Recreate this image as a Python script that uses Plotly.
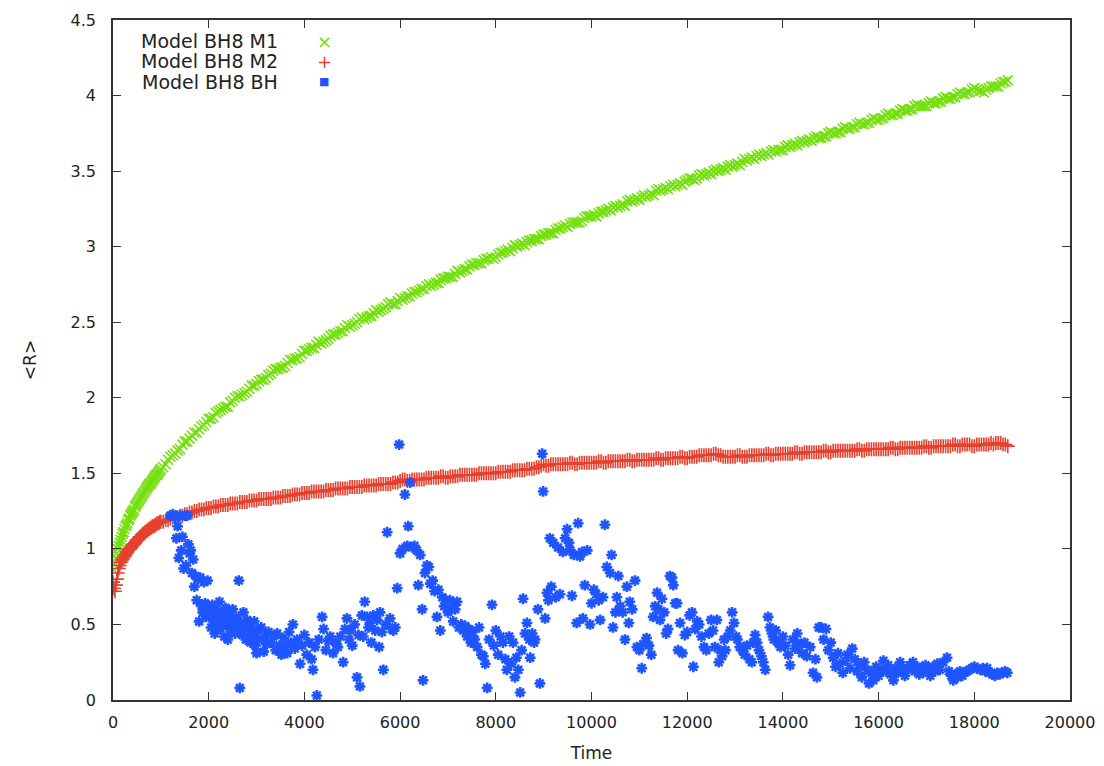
import plotly.graph_objects as go

# ---------------- data ----------------
# sampling times for M1 and M2: every 20 units up to 1000, then every 50 units
times = list(range(0, 1000, 20)) + list(range(1000, 18750, 50))

m1_r = [
    # t = 0 .. 980 (step 20)
    0.75, 0.86, 0.90, 0.94, 0.97, 1.00, 1.02, 1.04, 1.06, 1.08, 1.10, 1.11, 1.13, 1.15, 1.16, 1.17, 1.19, 1.20, 1.22, 1.23,
    1.24, 1.25, 1.26, 1.28, 1.29, 1.30, 1.31, 1.32, 1.33, 1.34, 1.35, 1.36, 1.37, 1.38, 1.39, 1.40, 1.41, 1.42, 1.43, 1.43,
    1.44, 1.45, 1.46, 1.47, 1.48, 1.49, 1.49, 1.50, 1.51, 1.52,
    # t = 1000 .. 18700 (step 50), one row per 1000 time units
    1.53, 1.54, 1.56, 1.59, 1.61, 1.62, 1.63, 1.65, 1.66, 1.69, 1.71, 1.71, 1.73, 1.75, 1.77, 1.77, 1.79, 1.81, 1.82, 1.84,
    1.86, 1.86, 1.87, 1.90, 1.91, 1.92, 1.93, 1.94, 1.94, 1.97, 1.98, 2.00, 2.01, 2.01, 2.02, 2.03, 2.04, 2.06, 2.08, 2.08,
    2.09, 2.11, 2.12, 2.12, 2.13, 2.15, 2.16, 2.18, 2.19, 2.19, 2.20, 2.20, 2.21, 2.23, 2.25, 2.25, 2.26, 2.26, 2.27, 2.29,
    2.31, 2.31, 2.32, 2.33, 2.33, 2.35, 2.37, 2.36, 2.37, 2.38, 2.39, 2.41, 2.42, 2.42, 2.43, 2.44, 2.44, 2.46, 2.48, 2.47,
    2.48, 2.49, 2.50, 2.52, 2.53, 2.52, 2.53, 2.54, 2.54, 2.56, 2.58, 2.57, 2.58, 2.59, 2.60, 2.62, 2.63, 2.62, 2.62, 2.64,
    2.66, 2.65, 2.66, 2.67, 2.67, 2.69, 2.70, 2.70, 2.71, 2.72, 2.72, 2.74, 2.75, 2.74, 2.75, 2.76, 2.76, 2.78, 2.79, 2.79,
    2.80, 2.80, 2.80, 2.82, 2.84, 2.83, 2.84, 2.85, 2.85, 2.87, 2.88, 2.88, 2.89, 2.89, 2.89, 2.91, 2.92, 2.92, 2.93, 2.92,
    2.93, 2.95, 2.96, 2.96, 2.97, 2.98, 2.97, 2.99, 3.01, 3.00, 3.01, 3.02, 3.01, 3.03, 3.04, 3.04, 3.05, 3.05, 3.05, 3.07,
    3.08, 3.08, 3.09, 3.09, 3.09, 3.11, 3.12, 3.12, 3.13, 3.14, 3.13, 3.15, 3.16, 3.16, 3.16, 3.16, 3.17, 3.19, 3.20, 3.20,
    3.20, 3.21, 3.20, 3.22, 3.23, 3.23, 3.24, 3.25, 3.24, 3.26, 3.27, 3.26, 3.27, 3.28, 3.27, 3.30, 3.31, 3.30, 3.31, 3.32,
    3.31, 3.33, 3.34, 3.33, 3.34, 3.35, 3.34, 3.37, 3.38, 3.37, 3.38, 3.39, 3.38, 3.40, 3.41, 3.40, 3.41, 3.42, 3.41, 3.43,
    3.44, 3.45, 3.45, 3.44, 3.45, 3.47, 3.48, 3.47, 3.48, 3.49, 3.48, 3.50, 3.51, 3.50, 3.51, 3.52, 3.51, 3.53, 3.54, 3.53,
    3.54, 3.55, 3.54, 3.56, 3.58, 3.57, 3.58, 3.59, 3.58, 3.60, 3.61, 3.60, 3.61, 3.62, 3.61, 3.63, 3.64, 3.63, 3.64, 3.64,
    3.64, 3.66, 3.67, 3.66, 3.67, 3.68, 3.67, 3.69, 3.70, 3.69, 3.70, 3.71, 3.70, 3.72, 3.73, 3.72, 3.72, 3.73, 3.73, 3.75,
    3.76, 3.75, 3.75, 3.76, 3.76, 3.78, 3.79, 3.78, 3.78, 3.79, 3.79, 3.81, 3.82, 3.81, 3.81, 3.82, 3.82, 3.84, 3.85, 3.84,
    3.84, 3.85, 3.85, 3.87, 3.88, 3.87, 3.87, 3.88, 3.88, 3.90, 3.91, 3.90, 3.90, 3.91, 3.91, 3.93, 3.94, 3.93, 3.93, 3.93,
    3.93, 3.95, 3.96, 3.95, 3.95, 3.96, 3.96, 3.98, 3.99, 3.98, 3.98, 3.99, 3.99, 4.01, 4.02, 4.01, 4.01, 4.02, 4.02, 4.04,
    4.05, 4.04, 4.03, 4.03, 4.02, 4.04, 4.05, 4.06, 4.06, 4.06, 4.06, 4.08, 4.09, 4.09, 4.10]

m2_r = [
    # t = 0 .. 980 (step 20)
    0.78, 0.74, 0.72, 0.76, 0.80, 0.84, 0.87, 0.89, 0.91, 0.92, 0.93, 0.94, 0.95, 0.96, 0.97, 0.98, 0.99, 1.00, 1.00, 1.01,
    1.02, 1.03, 1.03, 1.04, 1.05, 1.06, 1.06, 1.07, 1.08, 1.08, 1.09, 1.10, 1.10, 1.11, 1.11, 1.12, 1.12, 1.13, 1.13, 1.14,
    1.14, 1.15, 1.15, 1.15, 1.16, 1.16, 1.17, 1.17, 1.17, 1.18,
    # t = 1000 .. 18700 (step 50)
    1.18, 1.18, 1.19, 1.19, 1.20, 1.21, 1.21, 1.21, 1.22, 1.22, 1.23, 1.23, 1.24, 1.24, 1.25, 1.25, 1.26, 1.26, 1.26, 1.27,
    1.27, 1.27, 1.28, 1.28, 1.28, 1.29, 1.29, 1.29, 1.29, 1.30, 1.30, 1.30, 1.30, 1.31, 1.31, 1.31, 1.31, 1.32, 1.32, 1.32,
    1.32, 1.33, 1.33, 1.33, 1.33, 1.33, 1.33, 1.34, 1.34, 1.34, 1.34, 1.35, 1.35, 1.35, 1.35, 1.36, 1.36, 1.36, 1.36, 1.37,
    1.37, 1.37, 1.37, 1.38, 1.38, 1.38, 1.38, 1.38, 1.38, 1.39, 1.39, 1.39, 1.39, 1.40, 1.40, 1.40, 1.40, 1.40, 1.40, 1.41,
    1.41, 1.41, 1.41, 1.41, 1.41, 1.42, 1.42, 1.42, 1.42, 1.42, 1.42, 1.43, 1.43, 1.43, 1.43, 1.43, 1.43, 1.44, 1.44, 1.44,
    1.45, 1.46, 1.46, 1.45, 1.45, 1.46, 1.46, 1.46, 1.46, 1.46, 1.46, 1.47, 1.47, 1.47, 1.47, 1.47, 1.47, 1.48, 1.48, 1.47,
    1.47, 1.48, 1.48, 1.48, 1.48, 1.49, 1.49, 1.49, 1.49, 1.49, 1.49, 1.49, 1.49, 1.50, 1.50, 1.50, 1.50, 1.50, 1.50, 1.50,
    1.50, 1.51, 1.51, 1.51, 1.51, 1.51, 1.51, 1.52, 1.52, 1.52, 1.52, 1.52, 1.52, 1.53, 1.53, 1.53, 1.53, 1.54, 1.54, 1.55,
    1.56, 1.55, 1.55, 1.56, 1.56, 1.56, 1.56, 1.56, 1.56, 1.56, 1.56, 1.57, 1.57, 1.56, 1.56, 1.57, 1.57, 1.57, 1.57, 1.57,
    1.57, 1.57, 1.57, 1.58, 1.58, 1.57, 1.57, 1.58, 1.58, 1.58, 1.58, 1.58, 1.58, 1.58, 1.58, 1.59, 1.59, 1.58, 1.58, 1.59,
    1.59, 1.59, 1.59, 1.59, 1.59, 1.59, 1.59, 1.60, 1.60, 1.59, 1.59, 1.60, 1.60, 1.60, 1.60, 1.60, 1.60, 1.61, 1.61, 1.60,
    1.60, 1.61, 1.61, 1.61, 1.61, 1.62, 1.62, 1.62, 1.62, 1.62, 1.62, 1.63, 1.63, 1.62, 1.62, 1.61, 1.61, 1.61, 1.61, 1.61,
    1.61, 1.62, 1.62, 1.61, 1.61, 1.61, 1.62, 1.62, 1.62, 1.62, 1.62, 1.62, 1.62, 1.63, 1.63, 1.62, 1.62, 1.63, 1.63, 1.63,
    1.63, 1.63, 1.63, 1.63, 1.63, 1.64, 1.64, 1.63, 1.63, 1.64, 1.64, 1.64, 1.64, 1.64, 1.64, 1.64, 1.64, 1.65, 1.65, 1.64,
    1.64, 1.65, 1.65, 1.65, 1.65, 1.65, 1.65, 1.65, 1.65, 1.65, 1.65, 1.66, 1.66, 1.65, 1.65, 1.66, 1.66, 1.66, 1.66, 1.66,
    1.66, 1.66, 1.66, 1.66, 1.66, 1.67, 1.67, 1.66, 1.66, 1.67, 1.67, 1.67, 1.67, 1.67, 1.67, 1.67, 1.67, 1.67, 1.67, 1.68,
    1.68, 1.67, 1.67, 1.68, 1.68, 1.68, 1.68, 1.68, 1.68, 1.68, 1.68, 1.69, 1.69, 1.68, 1.68, 1.69, 1.69, 1.69, 1.69, 1.68,
    1.68, 1.69, 1.69, 1.69, 1.69, 1.69, 1.69, 1.70, 1.69, 1.70, 1.70, 1.70, 1.69, 1.69, 1.68]

bh_time = [1200, 1250, 1300, 1325, 1350, 1375, 1400, 1425, 1450, 1475, 1500, 1525, 1550, 1575, 1600, 1625, 1650, 1675,
           1700, 1725, 1750, 1775, 1800, 1825, 1850, 1875, 1900, 1925, 1950, 1975, 2000,
           2025, 2050, 2075, 2100, 2125, 2150, 2175, 2200, 2225, 2250, 2275, 2300, 2325, 2350, 2375, 2400, 2425, 2450,
           2475, 2500, 2525, 2550, 2575, 2600, 2630, 2650, 2675, 2700, 2725, 2750, 2775, 2800, 2825, 2850, 2875, 2900,
           2925, 2950, 2975, 3000, 3025, 3050, 3100, 3150, 3180, 3200,
           3250, 3300, 3350, 3400, 3430, 3480, 3520, 3560, 3600, 3640, 3680, 3720, 3760, 3800, 3850, 3910, 3950, 4000,
           4050, 4100, 4150, 4180, 4220, 4260, 4300, 4370, 4400, 4450, 4500, 4540,
           4600, 4650, 4700, 4750, 4810, 4850, 4890, 4930, 4960, 5000, 5050, 5100, 5130, 5160, 5200, 5230, 5260, 5310,
           5340, 5370, 5400, 5440, 5480, 5520, 5560, 5580, 5620, 5650, 5700, 5730, 5790, 5830, 5860, 5900, 5940, 5980,
           6000, 6050, 6100, 6150, 6170, 6210, 6250, 6300, 6350, 6380, 6420, 6460, 6480, 6520, 6560, 6600, 6630, 6680,
           6720, 6770, 6800, 6840, 6880, 6920, 6960, 7000, 7040, 7080, 7110, 7150, 7190, 7230, 7280, 7320, 7360, 7400,
           7440, 7480, 7520, 7560, 7610, 7650, 7700, 7740, 7780, 7820, 7860, 7920, 7960, 8000, 8050, 8100, 8150, 8200,
           8230, 8280, 8320, 8360,
           8400, 8430, 8470, 8510, 8540, 8570, 8610, 8650, 8700, 8720, 8760, 8800, 8820, 8880, 8920, 8970, 8990, 9030,
           9070, 9100, 9130, 9160, 9200, 9250, 9300, 9340, 9400, 9450, 9490, 9530, 9560, 9590, 9630, 9690, 9720, 9760,
           9800, 9820, 9860, 9910, 9970, 10000, 10050, 10100, 10150, 10180, 10240, 10280, 10320, 10390, 10420, 10450,
           10500, 10530, 10560, 10600, 10650, 10700, 10740, 10780, 10800, 10850, 10910, 10950,
           11000, 11050, 11080, 11150, 11200, 11250, 11290, 11330, 11370, 11400, 11430, 11470, 11520, 11560, 11600,
           11640, 11680, 11710, 11750, 11790, 11810, 11850, 11900, 11950, 12000, 12050, 12100, 12130, 12170, 12210,
           12250, 12300, 12350, 12400, 12450, 12500,
           12540, 12580, 12620, 12660, 12690, 12730, 12770, 12800, 12850, 12900, 12940, 12980, 13020, 13050, 13100,
           13150, 13200, 13250, 13300, 13350, 13380, 13420, 13460, 13500, 13550, 13590, 13630, 13690, 13730, 13770,
           13810, 13850, 13900, 13950, 14000,
           14050, 14110, 14150, 14210, 14260, 14300, 14350, 14400, 14450, 14500, 14570, 14630, 14680, 14710, 14750,
           14800, 14850, 14900, 14950, 15000, 15050, 15100, 15150, 15190, 15250, 15300, 15350, 15400, 15450, 15500,
           15550, 15600, 15650, 15700, 15750, 15800,
           15850, 15890, 15950, 16000, 16050, 16100, 16150, 16200, 16250, 16310, 16350, 16400, 16450, 16500, 16550,
           16600, 16650, 16720, 16760, 16800, 16850, 16900, 16930, 16980, 17030, 17080, 17130, 17180, 17230, 17280,
           17350, 17430, 17470, 17520, 17560, 17600, 17650, 17700, 17750, 17800, 17850, 17900, 17950, 18000, 18060,
           18120, 18180, 18230, 18270, 18320, 18380, 18430, 18480, 18530, 18580, 18640, 18690]

bh_r = [1.22, 1.23, 1.21, 1.07, 1.15, 0.94, 1.22, 0.99, 1.08, 0.87, 1.22, 0.89, 1.22, 1.03, 0.97, 0.99, 0.84, 0.93,
        0.75, 0.82, 0.66, 0.80, 0.52, 0.81, 0.62, 0.58, 0.78, 0.64, 0.55, 0.79, 0.61,
        0.57, 0.48, 0.63, 0.52, 0.44, 0.60, 0.55, 0.50, 0.65, 0.47, 0.58, 0.53, 0.42, 0.61, 0.49, 0.40, 0.56, 0.52,
        0.45, 0.60, 0.50, 0.44, 0.55, 0.48, 0.79, 0.08, 0.51, 0.43, 0.58, 0.47, 0.40, 0.53, 0.45, 0.50, 0.38, 0.48,
        0.43, 0.52, 0.36, 0.31, 0.46, 0.40, 0.48, 0.32, 0.42, 0.37,
        0.45, 0.38, 0.42, 0.33, 0.44, 0.36, 0.30, 0.41, 0.35, 0.31, 0.45, 0.38, 0.50, 0.34, 0.40, 0.24, 0.36, 0.43,
        0.30, 0.38, 0.27, 0.20, 0.35, 0.03, 0.40, 0.55, 0.47, 0.33, 0.39, 0.42,
        0.31, 0.38, 0.35, 0.42, 0.25, 0.47, 0.54, 0.40, 0.46, 0.36, 0.50, 0.15, 0.43, 0.09, 0.56, 0.42, 0.65, 0.55,
        0.48, 0.51, 0.38, 0.56, 0.46, 0.53, 0.35, 0.58, 0.45, 0.20, 0.50, 1.11, 0.54, 0.47, 0.46, 0.48, 0.74, 1.69,
        0.97, 1.00, 1.36, 1.02, 1.15, 1.44, 1.01, 1.02, 0.99, 0.76, 0.96, 0.60, 0.13, 0.84, 0.89, 0.88, 0.77, 0.79,
        0.72, 0.55, 0.73, 0.46, 0.68, 0.62, 0.66, 0.58, 0.66, 0.60, 0.52, 0.60, 0.65, 0.48, 0.50, 0.46, 0.49, 0.42,
        0.47, 0.38, 0.45, 0.40, 0.35, 0.48, 0.30, 0.29, 0.24, 0.08, 0.40, 0.63, 0.36, 0.46, 0.30, 0.42, 0.38, 0.27,
        0.20, 0.42, 0.24, 0.38,
        0.15, 0.28, 0.20, 0.05, 0.33, 0.67, 0.44, 0.51, 0.40, 0.28, 0.44, 0.38, 0.40, 0.60, 0.11, 1.63, 1.38, 0.54,
        0.71, 0.66, 1.07, 0.75, 1.04, 0.68, 1.01, 0.70, 0.98, 1.07, 1.13, 1.04, 0.99, 0.69, 0.96, 0.51, 1.17, 0.95,
        0.98, 0.54, 0.76, 0.99, 0.50, 0.64, 0.73, 0.70, 0.66, 0.53, 0.68, 1.16, 0.88, 0.84, 0.96, 0.48,
        0.58, 0.68, 0.82, 0.62, 0.58, 0.40, 0.75, 0.51, 0.65, 0.60, 0.79, 0.35,
        0.33, 0.21, 0.37, 0.41, 0.36, 0.30, 0.55, 0.62, 0.71, 0.60, 0.53, 0.67, 0.58, 0.44, 0.47,
        0.82, 0.81, 0.76, 0.64, 0.64, 0.33, 0.51, 0.31, 0.43, 0.45, 0.56, 0.58, 0.22, 0.47, 0.52,
        0.50, 0.42, 0.35, 0.33, 0.44, 0.53,
        0.46, 0.35, 0.53, 0.25, 0.33, 0.29, 0.40, 0.33, 0.42, 0.46, 0.58, 0.51, 0.42, 0.40, 0.35,
        0.33, 0.30, 0.36, 0.27, 0.25, 0.38, 0.43, 0.38, 0.33, 0.29, 0.25, 0.20, 0.55, 0.48, 0.44,
        0.40, 0.46, 0.38, 0.35, 0.42,
        0.36, 0.30, 0.23, 0.40, 0.34, 0.44, 0.37, 0.31, 0.38, 0.29, 0.35, 0.18, 0.27, 0.15, 0.48,
        0.48, 0.40, 0.47, 0.33, 0.38, 0.28, 0.22, 0.31, 0.24, 0.18, 0.26, 0.30, 0.21, 0.34, 0.27,
        0.19, 0.23, 0.15, 0.25, 0.20, 0.11,
        0.18, 0.13, 0.22, 0.16, 0.20, 0.26, 0.19, 0.23, 0.17, 0.13, 0.21, 0.18, 0.25, 0.21, 0.16,
        0.20, 0.23, 0.25, 0.19, 0.22, 0.17, 0.21, 0.18, 0.23, 0.20, 0.16, 0.22, 0.19, 0.24, 0.20,
        0.25, 0.28, 0.19, 0.16, 0.13, 0.17, 0.15, 0.19, 0.16, 0.18, 0.19, 0.20, 0.21, 0.22, 0.21,
        0.20, 0.21, 0.19, 0.21, 0.18, 0.17, 0.16, 0.18, 0.17, 0.18, 0.19, 0.18]

series_names = ["Model BH8 M1", "Model BH8 M2", "Model BH8 BH"]
x_ticks = list(range(0, 20001, 2000))
y_ticks = [0, 0.5, 1, 1.5, 2, 2.5, 3, 3.5, 4, 4.5]

GREEN = "#72e00c"
RED = "#e6402e"
BLUE = "#1f55ff"
AXIS = "#333333"
TEXT = "#222222"
FONT = "DejaVu Sans"

fig = go.Figure()
fig.add_trace(go.Scatter(x=times, y=m1_r, mode="markers", name=series_names[0],
                         marker=dict(symbol="x-thin", size=10, line=dict(width=1.6, color=GREEN), color=GREEN)))
fig.add_trace(go.Scatter(x=times, y=m2_r, mode="markers", name=series_names[1],
                         marker=dict(symbol="cross-thin", size=10, line=dict(width=1.6, color=RED), color=RED)))
fig.add_trace(go.Scatter(x=bh_time, y=bh_r, mode="markers", name=series_names[2],
                         marker=dict(symbol="asterisk", size=9, line=dict(width=2.6, color=BLUE), color=BLUE)))

axis_common = dict(showgrid=False, zeroline=False, showline=True, linecolor=AXIS, linewidth=1.6,
                   ticks="inside", ticklen=8, tickwidth=1.3, tickcolor=AXIS, mirror="ticks",
                   automargin=False, tickfont=dict(family=FONT, size=16, color=TEXT))

fig.update_xaxes(range=[0, 20000], tickvals=x_ticks, tickformat="d",
                 title=dict(text="Time", font=dict(family=FONT, size=17, color=TEXT), standoff=16),
                 ticklabelstandoff=7, **axis_common)
fig.update_yaxes(range=[0, 4.5], tickvals=y_ticks,
                 title=dict(text="&lt;R&gt;", font=dict(family=FONT, size=17, color=TEXT), standoff=30),
                 ticklabelstandoff=12, **axis_common)

# gnuplot-style key: label text on the left, symbol on the right
key_rows = [0.969, 0.939, 0.909]
key_syms = [("×", GREEN, 18), ("+", RED, 18), ("■", BLUE, 11)]
for name, yk, (sym, col, sz) in zip(series_names, key_rows, key_syms):
    fig.add_annotation(x=0.174, y=yk, xref="paper", yref="paper", xanchor="right", yanchor="middle",
                       text=name, showarrow=False, font=dict(family=FONT, size=19, color=TEXT))
    fig.add_annotation(x=0.2205, y=yk, xref="paper", yref="paper", xanchor="center", yanchor="middle",
                       text=sym, showarrow=False, font=dict(family=FONT, size=sz, color=col))

fig.update_layout(width=1104, height=766, showlegend=False,
                  margin=dict(l=113, r=34, t=20, b=66),
                  plot_bgcolor="white", paper_bgcolor="white")

fig.write_html("out.html")
